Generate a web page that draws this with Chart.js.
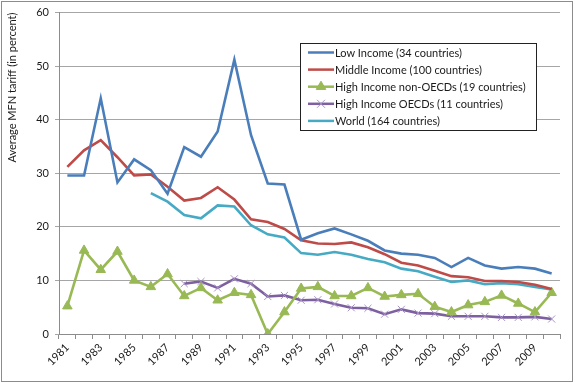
<!DOCTYPE html>
<html>
<head>
<meta charset="utf-8">
<script src="https://cdn.jsdelivr.net/npm/chart.js@4.4.1/dist/chart.umd.min.js"></script>
<style>
html,body{margin:0;padding:0;background:#fff;}
#wrap{position:absolute;left:0;top:0;width:575px;height:383px;}
</style>
</head>
<body>
<div id="wrap"><canvas id="c" width="575" height="383"></canvas></div>
<script>
const years = ['1981','1982','1983','1984','1985','1986','1987','1988','1989','1990','1991','1992','1993','1994','1995','1996','1997','1998','1999','2000','2001','2002','2003','2004','2005','2006','2007','2008','2009','2010'];
const lowIncome = [29.6,29.6,44.0,28.3,32.6,30.6,26.2,34.9,33.1,37.8,51.2,37.1,28.1,27.9,17.6,18.8,19.7,18.6,17.4,15.6,15.0,14.8,14.2,12.5,14.2,12.8,12.2,12.5,12.2,11.3];
const middleIncome = [31.2,34.3,36.2,33.0,29.6,29.8,27.5,24.9,25.4,27.4,25.1,21.4,20.9,19.6,17.5,16.9,16.8,17.1,16.2,14.9,13.3,12.8,11.8,10.8,10.6,9.9,9.9,9.7,9.2,8.4];
const highNonOECD = [5.2,15.6,12.0,15.4,10.0,8.8,11.2,7.1,8.6,6.3,7.7,7.3,0,4.1,8.5,8.8,7.1,7.1,8.6,7.0,7.3,7.5,5.1,4.1,5.4,6.0,7.2,5.7,4.1,7.7];
const highOECD = [null,null,null,null,null,null,null,9.4,9.8,8.6,10.3,9.4,7.0,7.2,6.3,6.4,5.6,4.9,4.8,3.7,4.6,3.9,3.8,3.3,3.3,3.3,3.1,3.1,3.2,2.8];
const world = [null,null,null,null,null,26.3,24.7,22.2,21.6,24.0,23.8,20.3,18.6,18.0,15.1,14.8,15.3,14.8,14.0,13.4,12.2,11.7,10.7,9.7,10.0,9.3,9.5,9.3,8.8,8.3];
const seriesLabels = ['Low Income (34 countries)','Middle Income (100 countries)','High Income non-OECDs (19 countries)','High Income OECDs (11 countries)','World (164 countries)'];
const yTitle = 'Average MFN tariff (in percent)';

const FONT = 'Lato, "Open Sans", sans-serif';

const frame = {
  id: 'frame',
  beforeDraw(chart) {
    const ctx = chart.ctx;
    ctx.save();
    ctx.fillStyle = '#fff';
    ctx.fillRect(0, 0, chart.width, chart.height);
    ctx.strokeStyle = '#8c8c8c';
    ctx.lineWidth = 1;
    ctx.strokeRect(1.5, 1.5, 571, 380);
    ctx.restore();
  }
};

const legendBox = {
  id: 'legendBox',
  afterDraw(chart) {
    const ctx = chart.ctx;
    const x0 = 300.5, y0 = 43.5, w = 236, h = 87;
    ctx.save();
    ctx.fillStyle = '#fff';
    ctx.fillRect(x0, y0, w, h);
    ctx.strokeStyle = '#222';
    ctx.lineWidth = 1;
    ctx.strokeRect(x0, y0, w, h);
    ctx.font = '11px ' + FONT;
    ctx.textBaseline = 'middle';
    ctx.textAlign = 'left';
    chart.data.datasets.forEach((ds, i) => {
      const y = 52.5 + i * 17.1;
      ctx.strokeStyle = ds.borderColor;
      ctx.lineWidth = 2.5;
      ctx.beginPath();
      ctx.moveTo(308, y);
      ctx.lineTo(334, y);
      ctx.stroke();
      if (ds.pointStyle === 'triangle' || ds.pointStyle === 'crossRot') {
        ctx.fillStyle = ds.pointBackgroundColor;
        ctx.strokeStyle = ds.pointBorderColor;
        ctx.lineWidth = ds.pointBorderWidth;
        ctx.beginPath();
        if (ds.pointStyle === 'triangle') {
          const r = ds.pointRadius;
          ctx.moveTo(321, y - r);
          ctx.lineTo(321 + r * 0.87, y + r * 0.5);
          ctx.lineTo(321 - r * 0.87, y + r * 0.5);
          ctx.closePath();
          ctx.fill();
          ctx.stroke();
        } else {
          const r = ds.pointRadius * 0.8;
          ctx.moveTo(321 - r, y - r); ctx.lineTo(321 + r, y + r);
          ctx.moveTo(321 + r, y - r); ctx.lineTo(321 - r, y + r);
          ctx.stroke();
        }
      }
      ctx.fillStyle = '#1a1a1a';
      ctx.fillText(ds.label, 335, y + 0.5);
    });
    ctx.restore();
  }
};

const mk = (label, data, color, extra) => Object.assign({
  label, data, borderColor: color, backgroundColor: color,
  borderWidth: 2.6, tension: 0, pointRadius: 0, pointHoverRadius: 0, spanGaps: false
}, extra || {});

new Chart(document.getElementById('c'), {
  type: 'line',
  data: {
    labels: years,
    datasets: [
      mk(seriesLabels[0], lowIncome, '#4a7ebb'),
      mk(seriesLabels[1], middleIncome, '#be4b48'),
      mk(seriesLabels[2], highNonOECD, '#98b954', {pointStyle: 'triangle', pointRadius: 5.5, pointBackgroundColor: '#98b954', pointBorderColor: '#98b954', pointBorderWidth: 1}),
      mk(seriesLabels[3], highOECD, '#7d60a0', {pointStyle: 'crossRot', pointRadius: 5, pointBackgroundColor: '#a994c6', pointBorderColor: '#a994c6', pointBorderWidth: 1}),
      mk(seriesLabels[4], world, '#46aac5')
    ]
  },
  options: {
    responsive: false,
    animation: false,
    devicePixelRatio: 1,
    layout: {padding: {left: 0, right: 15, top: 2, bottom: 0}},
    plugins: {legend: {display: false}, tooltip: {enabled: false}},
    scales: {
      x: {
        type: 'category',
        offset: true,
        grid: {offset: true, drawOnChartArea: false, drawTicks: true, tickLength: 5, color: '#8c8c8c'},
        border: {color: '#8c8c8c', width: 1},
        ticks: {
          autoSkip: false, maxRotation: 45, minRotation: 45, padding: 2,
          color: '#1a1a1a', font: {family: FONT, size: 11},
          callback: function(v, i) { return i % 2 === 0 ? this.getLabelForValue(v) : ''; }
        },
        afterFit(s) { s.height = 49; }
      },
      y: {
        min: 0, max: 60,
        ticks: {stepSize: 10, color: '#1a1a1a', font: {family: FONT, size: 11}, padding: 6},
        grid: {color: '#a6a6a6', tickLength: 4},
        border: {color: '#8c8c8c'},
        title: {display: true, text: yTitle, align: 'end', color: '#1a1a1a', font: {family: FONT, size: 11}, padding: {top: 6, bottom: 0}},
        afterFit(s) { s.width = 59; }
      }
    }
  },
  plugins: [frame, legendBox]
});
</script>
</body>
</html>
